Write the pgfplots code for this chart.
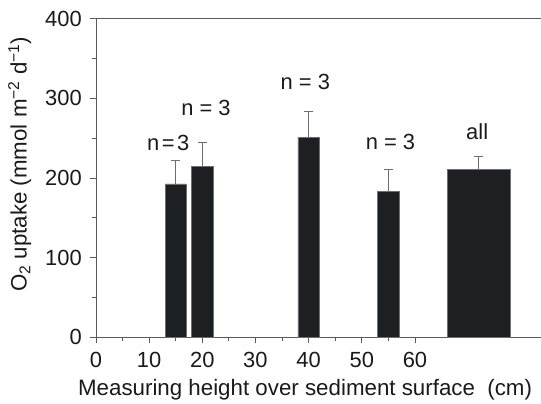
\documentclass[border=0pt]{standalone}
\usepackage{pgfplots}
\pgfplotsset{compat=1.18}
\usepackage{fontspec}
\setmainfont{Liberation Sans}
\definecolor{barfill}{HTML}{1E1F22}
\definecolor{bardraw}{HTML}{6E6E6E}
\definecolor{axisc}{HTML}{5A5A5A}
\definecolor{txt}{HTML}{1A1A1A}
\begin{document}
\begin{tikzpicture}
\path[use as bounding box] (0,0) rectangle (541bp,404bp);
\begin{axis}[
  at={(95.9bp,66.7bp)}, anchor=south west,
  scale only axis, width=445.1bp, height=318.6bp,
  xmin=0, xmax=83.7, ymin=0, ymax=400,
  axis y line=left, axis x line=box,
  axis line style={-, color=axisc, line width=0.8pt},
  every outer x axis line/.append style={-},
  every inner x axis line/.append style={-},
  xtick={0,10,...,60}, minor xtick={5,15,...,55},
  ytick={0,100,...,400}, minor ytick={50,150,...,350},
  xtick pos=left, ytick pos=left,
  tick align=outside,
  major tick length=6bp, minor tick length=3.5bp,
  tick style={color=axisc, line width=0.8pt},
  font=\fontsize{22}{26}\selectfont,
  /pgf/number format/assume math mode=true,
  ticklabel style={text=txt},
  xticklabel style={anchor=north, inner sep=0pt, yshift=-9bp},
  yticklabel style={anchor=east, inner sep=0pt, xshift=-8bp},
  xlabel={Measuring height over sediment surface\ \ (cm)},
  ylabel={O\textsubscript{2} uptake (mmol m\textsuperscript{−2} d\textsuperscript{−1})},
  xlabel style={at={(axis description cs:0.47,-0.1811)}, anchor=base, text=txt, font=\fontsize{22.4}{26}\selectfont},
  ylabel style={at={(axis description cs:-0.1555,0.543)}, anchor=base, text=txt, font=\fontsize{22.4}{26}\selectfont},
  clip=false,
]
\addplot[ybar, bar width=4, bar shift=0, fill=barfill, draw=bardraw, line width=0.6pt,
  error bars/.cd, y dir=plus, y explicit,
  error bar style={color=bardraw, line width=0.8pt},
  error mark options={color=bardraw, mark size=4.5bp, line width=0.8pt, rotate=90}]
  coordinates {(15,192.5) +- (0,30) (20,214.6) +- (0,30.2) (40,250.6) +- (0,33.4) (55,182.8) +- (0,27.5)};
\addplot[ybar, bar width=12, bar shift=0, fill=barfill, draw=bardraw, line width=0.6pt,
  error bars/.cd, y dir=plus, y explicit,
  error bar style={color=bardraw, line width=0.8pt},
  error mark options={color=bardraw, mark size=4.5bp, line width=0.8pt, rotate=90}]
  coordinates {(72,211.5) +- (0,15.5)};
\node[anchor=base, text=txt] at (axis cs:13.6,235) {n\kern2.5pt=\kern2.5pt3};
\node[anchor=base, text=txt] at (axis cs:20.7,278) {n = 3};
\node[anchor=base, text=txt] at (axis cs:39.4,311.5) {n = 3};
\node[anchor=base, text=txt] at (axis cs:55.4,236) {n = 3};
\node[anchor=base, text=txt] at (axis cs:71.7,248.5) {all};
\end{axis}
\end{tikzpicture}
\end{document}
